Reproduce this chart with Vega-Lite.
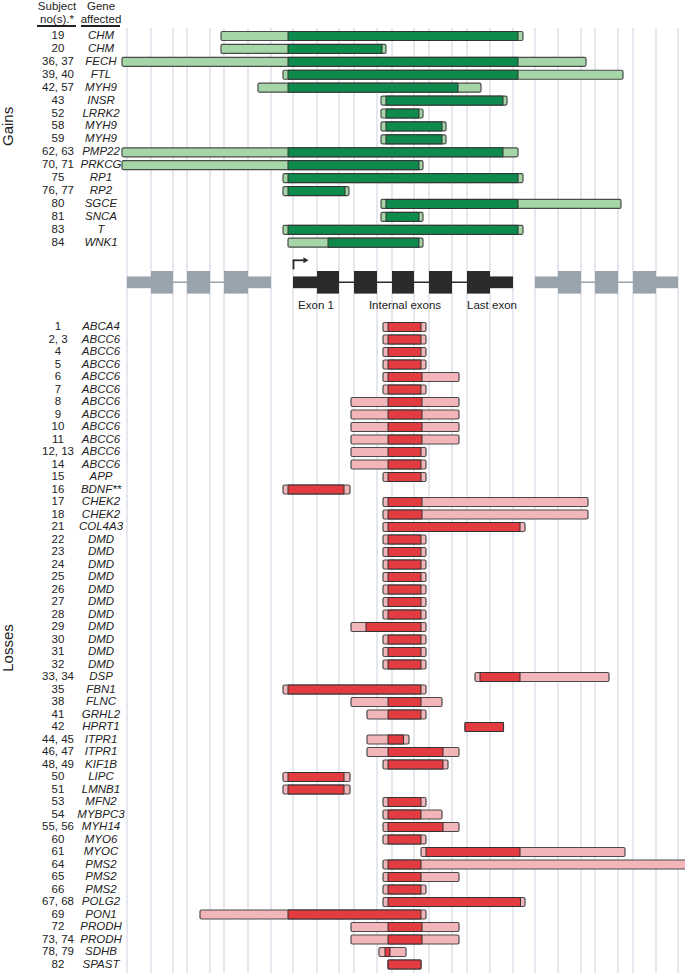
{
  "$schema": "https://vega.github.io/schema/vega-lite/v6.json",
  "padding": 0,
  "spacing": 0,
  "bounds": "flush",
  "background": "white",
  "config": {"view": {"stroke": null}, "font": "Liberation Sans", "concat": {"spacing": 0}, "scale": {"continuousPadding": 0}},
  "datasets": {
    "grid": [{"x":127},{"x":151},{"x":173},{"x":187},{"x":210},{"x":224},{"x":248},{"x":271},{"x":293},{"x":317},{"x":339},{"x":354},{"x":377},{"x":392},{"x":414},{"x":429},{"x":452},{"x":467},{"x":490},{"x":513},{"x":535},{"x":558},{"x":581},{"x":595},{"x":618},{"x":633},{"x":656},{"x":678}],
    "gains": [
      {"row":1,"subj":"19","gene":"CHM","s":221,"e":523,"ds":288,"de":518},
      {"row":2,"subj":"20","gene":"CHM","s":221,"e":386,"ds":288,"de":382},
      {"row":3,"subj":"36, 37","gene":"FECH","s":122,"e":586,"ds":288,"de":518},
      {"row":4,"subj":"39, 40","gene":"FTL","s":283,"e":623,"ds":288,"de":518},
      {"row":5,"subj":"42, 57","gene":"MYH9","s":258,"e":481,"ds":288,"de":458},
      {"row":6,"subj":"43","gene":"INSR","s":381,"e":507,"ds":386,"de":503},
      {"row":7,"subj":"52","gene":"LRRK2","s":381,"e":423,"ds":386,"de":419},
      {"row":8,"subj":"58","gene":"MYH9","s":381,"e":446,"ds":386,"de":442},
      {"row":9,"subj":"59","gene":"MYH9","s":381,"e":446,"ds":386,"de":442},
      {"row":10,"subj":"62, 63","gene":"PMP22","s":122,"e":518,"ds":288,"de":503},
      {"row":11,"subj":"70, 71","gene":"PRKCG","s":122,"e":423,"ds":288,"de":419},
      {"row":12,"subj":"75","gene":"RP1","s":283,"e":523,"ds":288,"de":518},
      {"row":13,"subj":"76, 77","gene":"RP2","s":283,"e":349,"ds":288,"de":345},
      {"row":14,"subj":"80","gene":"SGCE","s":381,"e":621,"ds":386,"de":518},
      {"row":15,"subj":"81","gene":"SNCA","s":381,"e":423,"ds":386,"de":419},
      {"row":16,"subj":"83","gene":"T","s":283,"e":523,"ds":288,"de":518},
      {"row":17,"subj":"84","gene":"WNK1","s":288,"e":423,"ds":328,"de":419}
    ],
    "losses": [
      {"row":1,"subj":"1","gene":"ABCA4","s":383,"e":426,"ds":388,"de":421},
      {"row":2,"subj":"2, 3","gene":"ABCC6","s":383,"e":426,"ds":388,"de":421},
      {"row":3,"subj":"4","gene":"ABCC6","s":383,"e":426,"ds":388,"de":421},
      {"row":4,"subj":"5","gene":"ABCC6","s":383,"e":426,"ds":388,"de":421},
      {"row":5,"subj":"6","gene":"ABCC6","s":383,"e":459,"ds":388,"de":422},
      {"row":6,"subj":"7","gene":"ABCC6","s":383,"e":426,"ds":388,"de":421},
      {"row":7,"subj":"8","gene":"ABCC6","s":351,"e":459,"ds":388,"de":422},
      {"row":8,"subj":"9","gene":"ABCC6","s":351,"e":459,"ds":388,"de":422},
      {"row":9,"subj":"10","gene":"ABCC6","s":351,"e":459,"ds":388,"de":422},
      {"row":10,"subj":"11","gene":"ABCC6","s":351,"e":459,"ds":388,"de":422},
      {"row":11,"subj":"12, 13","gene":"ABCC6","s":351,"e":426,"ds":388,"de":421},
      {"row":12,"subj":"14","gene":"ABCC6","s":351,"e":426,"ds":388,"de":421},
      {"row":13,"subj":"15","gene":"APP","s":383,"e":426,"ds":388,"de":421},
      {"row":14,"subj":"16","gene":"BDNF**","s":283,"e":350,"ds":288,"de":344},
      {"row":15,"subj":"17","gene":"CHEK2","s":383,"e":588,"ds":388,"de":422},
      {"row":16,"subj":"18","gene":"CHEK2","s":383,"e":588,"ds":388,"de":422},
      {"row":17,"subj":"21","gene":"COL4A3","s":383,"e":525,"ds":388,"de":520},
      {"row":18,"subj":"22","gene":"DMD","s":383,"e":426,"ds":388,"de":421},
      {"row":19,"subj":"23","gene":"DMD","s":383,"e":426,"ds":388,"de":421},
      {"row":20,"subj":"24","gene":"DMD","s":383,"e":426,"ds":388,"de":421},
      {"row":21,"subj":"25","gene":"DMD","s":383,"e":426,"ds":388,"de":421},
      {"row":22,"subj":"26","gene":"DMD","s":383,"e":426,"ds":388,"de":421},
      {"row":23,"subj":"27","gene":"DMD","s":383,"e":426,"ds":388,"de":421},
      {"row":24,"subj":"28","gene":"DMD","s":383,"e":426,"ds":388,"de":421},
      {"row":25,"subj":"29","gene":"DMD","s":351,"e":426,"ds":366,"de":421},
      {"row":26,"subj":"30","gene":"DMD","s":383,"e":426,"ds":388,"de":421},
      {"row":27,"subj":"31","gene":"DMD","s":383,"e":426,"ds":388,"de":421},
      {"row":28,"subj":"32","gene":"DMD","s":383,"e":426,"ds":388,"de":421},
      {"row":29,"subj":"33, 34","gene":"DSP","s":475,"e":609,"ds":480,"de":520},
      {"row":30,"subj":"35","gene":"FBN1","s":283,"e":426,"ds":288,"de":421},
      {"row":31,"subj":"38","gene":"FLNC","s":351,"e":442,"ds":388,"de":421},
      {"row":32,"subj":"41","gene":"GRHL2","s":367,"e":426,"ds":388,"de":421},
      {"row":33,"subj":"42","gene":"HPRT1","s":465,"e":503.5,"ds":465,"de":503.5},
      {"row":34,"subj":"44, 45","gene":"ITPR1","s":367,"e":409,"ds":388,"de":403.5},
      {"row":35,"subj":"46, 47","gene":"ITPR1","s":367,"e":459,"ds":388,"de":443},
      {"row":36,"subj":"48, 49","gene":"KIF1B","s":383,"e":448,"ds":388,"de":443},
      {"row":37,"subj":"50","gene":"LIPC","s":283,"e":350,"ds":288,"de":344},
      {"row":38,"subj":"51","gene":"LMNB1","s":283,"e":350,"ds":288,"de":344},
      {"row":39,"subj":"53","gene":"MFN2","s":383,"e":426,"ds":388,"de":421},
      {"row":40,"subj":"54","gene":"MYBPC3","s":383,"e":442,"ds":388,"de":421},
      {"row":41,"subj":"55, 56","gene":"MYH14","s":383,"e":459,"ds":388,"de":443},
      {"row":42,"subj":"60","gene":"MYO6","s":383,"e":426,"ds":388,"de":421},
      {"row":43,"subj":"61","gene":"MYOC","s":421,"e":625,"ds":426,"de":520},
      {"row":44,"subj":"64","gene":"PMS2","s":383,"e":690,"ds":388,"de":421},
      {"row":45,"subj":"65","gene":"PMS2","s":383,"e":459,"ds":388,"de":421},
      {"row":46,"subj":"66","gene":"PMS2","s":383,"e":426,"ds":388,"de":421},
      {"row":47,"subj":"67, 68","gene":"POLG2","s":383,"e":525,"ds":388,"de":520.5},
      {"row":48,"subj":"69","gene":"PON1","s":200,"e":426,"ds":288,"de":421},
      {"row":49,"subj":"72","gene":"PRODH","s":351,"e":459,"ds":388,"de":422},
      {"row":50,"subj":"73, 74","gene":"PRODH","s":351,"e":459,"ds":388,"de":422},
      {"row":51,"subj":"78, 79","gene":"SDHB","s":379,"e":406,"ds":385,"de":390},
      {"row":52,"subj":"82","gene":"SPAST","s":388,"e":421,"ds":388,"de":421}
    ],
    "model": [
      {"x1":127,"x2":151,"part":"utr","grp":"flank"},
      {"x1":151,"x2":173,"part":"exon","grp":"flank"},
      {"x1":187,"x2":210,"part":"exon","grp":"flank"},
      {"x1":224,"x2":248,"part":"exon","grp":"flank"},
      {"x1":248,"x2":271,"part":"utr","grp":"flank"},
      {"x1":293,"x2":317,"part":"utr","grp":"gene"},
      {"x1":317,"x2":339,"part":"exon","grp":"gene"},
      {"x1":354,"x2":377,"part":"exon","grp":"gene"},
      {"x1":392,"x2":414,"part":"exon","grp":"gene"},
      {"x1":429,"x2":452,"part":"exon","grp":"gene"},
      {"x1":467,"x2":490,"part":"exon","grp":"gene"},
      {"x1":490,"x2":513,"part":"utr","grp":"gene"},
      {"x1":535,"x2":558,"part":"utr","grp":"flank"},
      {"x1":558,"x2":581,"part":"exon","grp":"flank"},
      {"x1":595,"x2":618,"part":"exon","grp":"flank"},
      {"x1":633,"x2":656,"part":"exon","grp":"flank"},
      {"x1":656,"x2":678,"part":"utr","grp":"flank"}
    ],
    "introns": [
      {"x1":127,"x2":271,"grp":"flank"},
      {"x1":293,"x2":513,"grp":"gene"},
      {"x1":535,"x2":678,"grp":"flank"}
    ]
  },
  "vconcat": [
    {
      "width": 685,
      "height": 255,
      "layer": [
        {
          "data": {"name": "grid"},
          "mark": {"type": "rule", "color": "#dfe1ea", "strokeWidth": 1.5},
          "encoding": {
            "x": {"field": "x", "type": "quantitative", "scale": {"domain": [0, 685], "nice": false, "zero": false, "padding": 0}, "axis": null},
            "y": {"datum": 0.38, "type": "quantitative", "scale": {"domain": [-1.709, 18.028], "nice": false, "zero": false, "reverse": true, "padding": 0}, "axis": null},
            "y2": {"datum": 18.028}
          }
        },
        {
          "data": {"values": [{}]},
          "mark": {"type": "text", "text": "Subject", "fontSize": 11.5, "color": "#222", "align": "center", "baseline": "middle"},
          "encoding": {"x": {"datum": 57, "type": "quantitative"}, "y": {"datum": -1.245, "type": "quantitative"}}
        },
        {
          "data": {"values": [{}]},
          "mark": {"type": "text", "text": "no(s).*", "fontSize": 11.5, "color": "#222", "align": "center", "baseline": "middle"},
          "encoding": {"x": {"datum": 57, "type": "quantitative"}, "y": {"datum": -0.277, "type": "quantitative"}}
        },
        {
          "data": {"values": [{}]},
          "mark": {"type": "text", "text": "Gene", "fontSize": 11.5, "color": "#222", "align": "center", "baseline": "middle"},
          "encoding": {"x": {"datum": 101, "type": "quantitative"}, "y": {"datum": -1.245, "type": "quantitative"}}
        },
        {
          "data": {"values": [{}]},
          "mark": {"type": "text", "text": "affected", "fontSize": 11.5, "color": "#222", "align": "center", "baseline": "middle"},
          "encoding": {"x": {"datum": 101, "type": "quantitative"}, "y": {"datum": -0.277, "type": "quantitative"}}
        },
        {
          "data": {"values": [{}]},
          "mark": {"type": "rule", "color": "#222", "strokeWidth": 2},
          "encoding": {"x": {"datum": 37, "type": "quantitative"}, "x2": {"datum": 76}, "y": {"datum": 0.226, "type": "quantitative"}}
        },
        {
          "data": {"values": [{}]},
          "mark": {"type": "rule", "color": "#222", "strokeWidth": 2},
          "encoding": {"x": {"datum": 81, "type": "quantitative"}, "x2": {"datum": 120}, "y": {"datum": 0.226, "type": "quantitative"}}
        },
        {
          "data": {"values": [{}]},
          "mark": {"type": "text", "text": "Gains", "fontSize": 15, "color": "#222", "align": "center", "baseline": "middle", "angle": 270},
          "encoding": {"x": {"datum": 8, "type": "quantitative"}, "y": {"datum": 8.0, "type": "quantitative"}}
        },
        {
          "data": {"name": "gains"},
          "mark": {"type": "text", "fontSize": 11.5, "color": "#222", "align": "center", "baseline": "middle"},
          "encoding": {"x": {"datum": 58, "type": "quantitative"}, "y": {"field": "row", "type": "quantitative"}, "text": {"field": "subj"}}
        },
        {
          "data": {"name": "gains"},
          "mark": {"type": "text", "fontSize": 11.5, "fontStyle": "italic", "color": "#222", "align": "center", "baseline": "middle"},
          "encoding": {"x": {"datum": 101, "type": "quantitative"}, "y": {"field": "row", "type": "quantitative"}, "text": {"field": "gene"}}
        },
        {
          "data": {"name": "gains"},
          "mark": {"type": "bar", "orient": "horizontal", "height": 9, "fill": "#a5d6a7", "stroke": "#4a4a4a", "strokeWidth": 1.2, "cornerRadius": 1.5, "clip": true},
          "encoding": {"x": {"field": "s", "type": "quantitative"}, "x2": {"field": "e"}, "y": {"field": "row", "type": "quantitative"}}
        },
        {
          "data": {"name": "gains"},
          "mark": {"type": "bar", "orient": "horizontal", "height": 9, "fill": "#0e8a4d", "stroke": "#333", "strokeWidth": 1},
          "encoding": {"x": {"field": "ds", "type": "quantitative"}, "x2": {"field": "de"}, "y": {"field": "row", "type": "quantitative"}}
        }
      ]
    },
    {
      "width": 685,
      "height": 61,
      "layer": [
        {
          "data": {"name": "grid"},
          "mark": {"type": "rule", "color": "#dfe1ea", "strokeWidth": 1.5},
          "encoding": {
            "x": {"field": "x", "type": "quantitative", "scale": {"domain": [0, 685], "nice": false, "zero": false, "padding": 0}, "axis": null},
            "y": {"datum": -3.07, "type": "quantitative", "scale": {"domain": [-3.07, 2.33], "nice": false, "zero": false, "padding": 0}, "axis": null},
            "y2": {"datum": 2.33}
          }
        },
        {
          "data": {"name": "introns"},
          "mark": {"type": "rule", "strokeWidth": 1.5},
          "encoding": {
            "x": {"field": "x1", "type": "quantitative"}, "x2": {"field": "x2"},
            "y": {"datum": 0, "type": "quantitative"},
            "color": {"field": "grp", "type": "nominal", "scale": {"domain": ["flank", "gene"], "range": ["#98a3ac", "#2b2b2b"]}, "legend": null}
          }
        },
        {
          "data": {"name": "model"},
          "transform": [{"filter": "datum.part === 'utr'"}],
          "mark": {"type": "rect"},
          "encoding": {
            "x": {"field": "x1", "type": "quantitative"}, "x2": {"field": "x2"},
            "y": {"datum": -0.52, "type": "quantitative"}, "y2": {"datum": 0.52},
            "color": {"field": "grp", "type": "nominal", "legend": null}
          }
        },
        {
          "data": {"name": "model"},
          "transform": [{"filter": "datum.part === 'exon'"}],
          "mark": {"type": "rect"},
          "encoding": {
            "x": {"field": "x1", "type": "quantitative"}, "x2": {"field": "x2"},
            "y": {"datum": -1, "type": "quantitative"}, "y2": {"datum": 1},
            "color": {"field": "grp", "type": "nominal", "legend": null}
          }
        },
        {
          "data": {"values": [{}]},
          "mark": {"type": "rule", "color": "#2b2b2b", "strokeWidth": 1.8},
          "encoding": {"x": {"datum": 293.5, "type": "quantitative"}, "y": {"datum": 1.15, "type": "quantitative"}, "y2": {"datum": 1.95}}
        },
        {
          "data": {"values": [{}]},
          "mark": {"type": "rule", "color": "#2b2b2b", "strokeWidth": 1.8},
          "encoding": {"x": {"datum": 292.6, "type": "quantitative"}, "x2": {"datum": 304}, "y": {"datum": 1.95, "type": "quantitative"}}
        },
        {
          "data": {"values": [{}]},
          "mark": {"type": "point", "shape": "triangle-right", "filled": true, "color": "#2b2b2b", "size": 35, "opacity": 1},
          "encoding": {"x": {"datum": 306, "type": "quantitative"}, "y": {"datum": 1.95, "type": "quantitative"}}
        },
        {
          "data": {"values": [{}]},
          "mark": {"type": "text", "text": "Exon 1", "fontSize": 11.5, "color": "#222", "align": "center", "baseline": "middle"},
          "encoding": {"x": {"datum": 316, "type": "quantitative"}, "y": {"datum": -2.1, "type": "quantitative"}}
        },
        {
          "data": {"values": [{}]},
          "mark": {"type": "text", "text": "Internal exons", "fontSize": 11.5, "color": "#222", "align": "center", "baseline": "middle"},
          "encoding": {"x": {"datum": 405, "type": "quantitative"}, "y": {"datum": -2.1, "type": "quantitative"}}
        },
        {
          "data": {"values": [{}]},
          "mark": {"type": "text", "text": "Last exon", "fontSize": 11.5, "color": "#222", "align": "center", "baseline": "middle"},
          "encoding": {"x": {"datum": 492, "type": "quantitative"}, "y": {"datum": -2.1, "type": "quantitative"}}
        }
      ]
    },
    {
      "width": 685,
      "height": 657,
      "layer": [
        {
          "data": {"name": "grid"},
          "mark": {"type": "rule", "color": "#dfe1ea", "strokeWidth": 1.5},
          "encoding": {
            "x": {"field": "x", "type": "quantitative", "scale": {"domain": [0, 685], "nice": false, "zero": false, "padding": 0}, "axis": null},
            "y": {"datum": 0.2, "type": "quantitative", "scale": {"domain": [0.2, 52.76], "nice": false, "zero": false, "reverse": true, "padding": 0}, "axis": null},
            "y2": {"datum": 52.76}
          }
        },
        {
          "data": {"values": [{}]},
          "mark": {"type": "text", "text": "Losses", "fontSize": 15, "color": "#222", "align": "center", "baseline": "middle", "angle": 270},
          "encoding": {"x": {"datum": 8, "type": "quantitative"}, "y": {"datum": 26.68, "type": "quantitative"}}
        },
        {
          "data": {"name": "losses"},
          "mark": {"type": "text", "fontSize": 11.5, "color": "#222", "align": "center", "baseline": "middle"},
          "encoding": {"x": {"datum": 58, "type": "quantitative"}, "y": {"field": "row", "type": "quantitative"}, "text": {"field": "subj"}}
        },
        {
          "data": {"name": "losses"},
          "mark": {"type": "text", "fontSize": 11.5, "fontStyle": "italic", "color": "#222", "align": "center", "baseline": "middle"},
          "encoding": {"x": {"datum": 101, "type": "quantitative"}, "y": {"field": "row", "type": "quantitative"}, "text": {"field": "gene"}}
        },
        {
          "data": {"name": "losses"},
          "mark": {"type": "bar", "orient": "horizontal", "height": 9, "fill": "#f2b5b9", "stroke": "#4a4a4a", "strokeWidth": 1.2, "cornerRadius": 1.5, "clip": true},
          "encoding": {"x": {"field": "s", "type": "quantitative"}, "x2": {"field": "e"}, "y": {"field": "row", "type": "quantitative"}}
        },
        {
          "data": {"name": "losses"},
          "mark": {"type": "bar", "orient": "horizontal", "height": 9, "fill": "#e23b40", "stroke": "#333", "strokeWidth": 1},
          "encoding": {"x": {"field": "ds", "type": "quantitative"}, "x2": {"field": "de"}, "y": {"field": "row", "type": "quantitative"}}
        }
      ]
    }
  ]
}
